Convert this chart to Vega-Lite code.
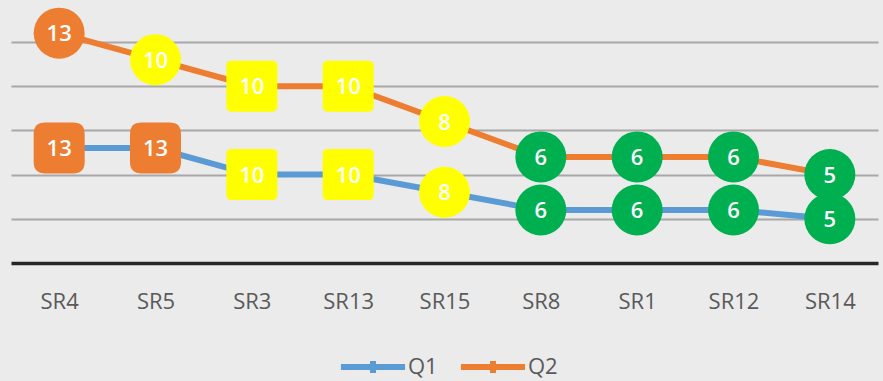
{
  "$schema": "https://vega.github.io/schema/vega-lite/v6.json",
  "width": 867,
  "height": 263,
  "autosize": {"type": "none"},
  "padding": {"left": 11, "top": 0, "right": 5, "bottom": 118},
  "background": "#ebebeb",
  "config": {"view": {"stroke": null}, "font": "Open Sans"},
  "data": {
    "values": [
      {"sr": "SR4", "q": "Q1", "value": 13},
      {"sr": "SR4", "q": "Q2", "value": 13},
      {"sr": "SR5", "q": "Q1", "value": 13},
      {"sr": "SR5", "q": "Q2", "value": 10},
      {"sr": "SR3", "q": "Q1", "value": 10},
      {"sr": "SR3", "q": "Q2", "value": 10},
      {"sr": "SR13", "q": "Q1", "value": 10},
      {"sr": "SR13", "q": "Q2", "value": 10},
      {"sr": "SR15", "q": "Q1", "value": 8},
      {"sr": "SR15", "q": "Q2", "value": 8},
      {"sr": "SR8", "q": "Q1", "value": 6},
      {"sr": "SR8", "q": "Q2", "value": 6},
      {"sr": "SR1", "q": "Q1", "value": 6},
      {"sr": "SR1", "q": "Q2", "value": 6},
      {"sr": "SR12", "q": "Q1", "value": 6},
      {"sr": "SR12", "q": "Q2", "value": 6},
      {"sr": "SR14", "q": "Q1", "value": 5},
      {"sr": "SR14", "q": "Q2", "value": 5}
    ]
  },
  "transform": [
    {"stack": "value", "groupby": ["sr"], "sort": [{"field": "q", "order": "ascending"}], "as": ["y0", "y1"]}
  ],
  "encoding": {
    "x": {
      "field": "sr",
      "type": "nominal",
      "sort": ["SR4", "SR5", "SR3", "SR13", "SR15", "SR8", "SR1", "SR12", "SR14"],
      "scale": {"type": "point", "padding": 0.5},
      "axis": {
        "title": null,
        "grid": false,
        "ticks": false,
        "labelAngle": 0,
        "labelFontSize": 22,
        "labelColor": "#595959",
        "labelPadding": 28,
        "domainColor": "#262626",
        "domainWidth": 3.5
      }
    },
    "y": {
      "field": "y1",
      "type": "quantitative",
      "scale": {"domain": [0, 29.75], "nice": false},
      "axis": {
        "title": null,
        "domain": false,
        "ticks": false,
        "labels": false,
        "grid": true,
        "values": [5, 10, 15, 20, 25],
        "gridColor": "#a8a8a8",
        "gridWidth": 2
      }
    }
  },
  "layer": [
    {
      "mark": {"type": "line", "strokeWidth": 6},
      "encoding": {
        "color": {
          "field": "q",
          "type": "nominal",
          "scale": {"domain": ["Q1", "Q2"], "range": ["#5B9BD5", "#ED7D31"]},
          "legend": {
            "title": null,
            "orient": "none",
            "direction": "horizontal",
            "legendX": 347,
            "legendY": 352,
            "symbolType": "M-2.67,0H2.67M0,-0.5V0.5",
            "symbolSize": 576,
            "symbolStrokeWidth": 6,
            "labelFontSize": 22,
            "labelColor": "#595959",
            "labelOffset": 20,
            "columnPadding": 10
          }
        }
      }
    },
    {
      "mark": {"type": "point", "filled": true, "opacity": 1, "size": 2600, "strokeWidth": 0},
      "encoding": {
        "fill": {
          "condition": [
            {"test": "datum.value >= 13", "value": "#ED7D31"},
            {"test": "datum.value >= 8", "value": "#FFFF00"}
          ],
          "value": "#00B050"
        },
        "shape": {
          "condition": [
            {"test": "datum.q === 'Q1' && (datum.sr === 'SR4' || datum.sr === 'SR5')", "value": "M-0.55,-1H0.55Q1,-1 1,-0.55V0.55Q1,1 0.55,1H-0.55Q-1,1 -1,0.55V-0.55Q-1,-1 -0.55,-1Z"},
            {"test": "datum.sr === 'SR3' || datum.sr === 'SR13'", "value": "M-0.8,-1H0.8Q1,-1 1,-0.8V0.8Q1,1 0.8,1H-0.8Q-1,1 -1,0.8V-0.8Q-1,-1 -0.8,-1Z"}
          ],
          "value": "circle"
        }
      }
    },
    {
      "mark": {"type": "text", "color": "#ffffff", "fontSize": 22, "fontWeight": 600, "align": "center", "baseline": "middle", "dy": 1},
      "encoding": {"text": {"field": "value", "type": "quantitative"}}
    }
  ]
}
